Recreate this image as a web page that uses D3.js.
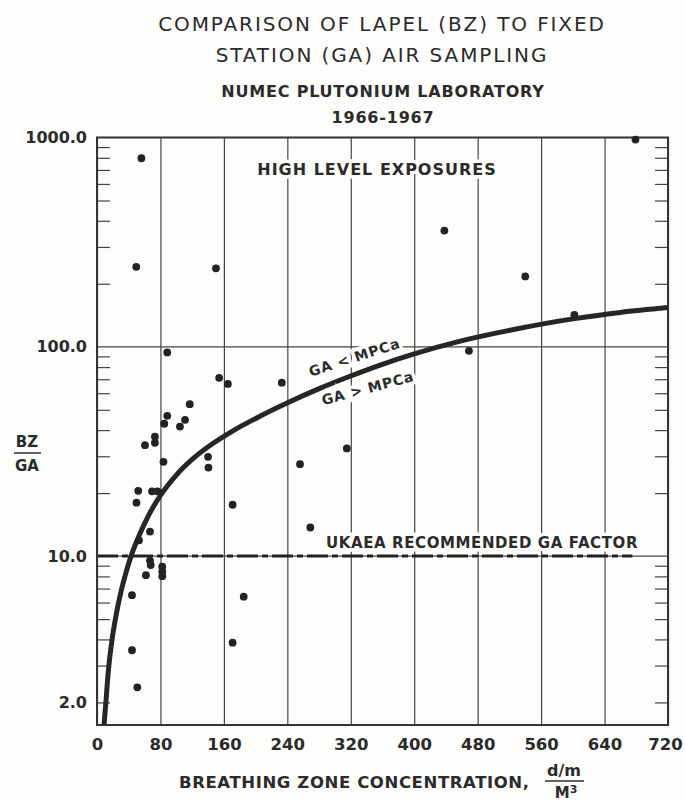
<!DOCTYPE html>
<html>
<head>
<meta charset="utf-8">
<script src="https://cdn.jsdelivr.net/npm/d3@7"></script>
<style>
  body { margin: 0; background: #fdfdfb; }
  text { font-family: "DejaVu Sans", sans-serif; fill: #2b2b2b; }
</style>
</head>
<body>
<div id="chart"></div>
<script>
// Chart data
var xTicks = [0, 80, 160, 240, 320, 400, 480, 560, 640, 720];
var yLabelTicks = [2, 10, 100, 1000];

// measured points: breathing zone conc. (d/m per m3) and BZ/GA ratio
var dotX = [56, 49.5, 150, 438, 540, 602, 679, 469,
  88.6, 154, 165, 233, 117, 88.6, 84.8, 111, 104.6, 73, 73, 60.5, 315,
  83.8, 140, 140.5, 256, 52, 69.3, 76.2, 49.8, 171, 269, 66.8, 52.9,
  66.8, 67.7, 61.7, 82.3, 82.3, 82.3, 44.1, 185, 171, 44.1, 50.8];
var dotY = [796, 241, 237, 359, 217, 142, 977, 95.7,
  94, 71.1, 66.5, 67.4, 53.2, 46.8, 42.9, 44.8, 41.6, 37.2, 34.8, 33.9, 32.7,
  28.2, 29.8, 26.5, 27.5, 20.5, 20.4, 20.4, 18.0, 17.6, 13.7, 13.1, 11.9,
  9.52, 9.06, 8.11, 8.91, 8.43, 8.02, 6.51, 6.40, 3.86, 3.55, 2.36];

// GA = MPCa boundary curve as drawn
var curveX = [8.8, 11.2, 14.2, 18.8, 24, 30, 36, 42.9, 53, 66, 80, 100, 121, 146, 172,
  206, 241, 281, 319, 357, 400, 458, 530, 600, 660, 720];
var curveY = [1.55, 2.0, 2.8, 3.95, 5.2, 6.7, 8.2, 10, 12.5, 15.9, 19.5, 24.4, 29.2, 34.5, 39.8,
  46.7, 54.2, 63.3, 72.3, 81.8, 92.5, 106.5, 122, 136, 146, 154];

var ukaeaFactor = 10;

var svgWidth = 685, svgHeight = 801;
var plotLeft = 97, plotRight = 668, plotTop = 137.5, plotBottom = 725;

var svg = d3.select("#chart").append("svg")
  .attr("width", svgWidth)
  .attr("height", svgHeight);

var x = d3.scaleLinear().domain([0, 720]).range([plotLeft, plotRight]);
var y = d3.scaleLog().domain([1.56, 1000]).range([plotBottom, plotTop]);

var ink = "#2e2e2e";

// minor log ticks 2..9 in every decade
var minor = [];
[1, 10, 100].forEach(function(p) {
  for (var k = 2; k <= 9; k++) if (k * p >= 1.56) minor.push(k * p);
});

// vertical grid from the x axis
var xAxis = svg.append("g")
  .attr("transform", `translate(0, ${plotBottom})`)
  .call(d3.axisBottom(x).tickValues(xTicks).tickSize(-(plotBottom - plotTop)).tickPadding(13).tickFormat(d => d));
xAxis.select(".domain").remove();
xAxis.selectAll("line").attr("stroke", "#444").attr("stroke-width", 1.2);
xAxis.selectAll("text")
  .style("font-size", "16.5px").style("font-weight", "bold")
  .attr("fill", ink);
xAxis.selectAll("text").filter(d => d === 720).attr("dx", -3);

// horizontal grid at 10 and 100
svg.append("g").selectAll("line").data([10, 100]).enter().append("line")
  .attr("x1", plotLeft).attr("x2", plotRight)
  .attr("y1", d => y(d)).attr("y2", d => y(d))
  .attr("stroke", "#444").attr("stroke-width", 1.2);

// inward minor ticks, both sides
var lt = svg.append("g").attr("transform", `translate(${plotLeft},0)`)
  .call(d3.axisLeft(y).tickValues(minor).tickSize(-13).tickFormat(""));
var rt = svg.append("g").attr("transform", `translate(${plotRight},0)`)
  .call(d3.axisRight(y).tickValues(minor).tickSize(-13).tickFormat(""));
[lt, rt].forEach(function(g) {
  g.select(".domain").remove();
  g.selectAll("line").attr("stroke", "#444").attr("stroke-width", 1.2);
});

// y labels
var yl = svg.append("g").attr("transform", `translate(${plotLeft},0)`)
  .call(d3.axisLeft(y).tickValues(yLabelTicks).tickSize(0).tickPadding(10).tickFormat(d3.format(".1f")));
yl.select(".domain").remove();
yl.selectAll("text").style("font-size", "16px").style("font-weight", "bold").attr("fill", ink);

// in-plot labels with a white knock-out like the drafted lettering
function label(txt, px, py, size, rot, spacing) {
  return svg.append("text")
    .attr("transform", `translate(${px},${py}) rotate(${rot || 0})`)
    .attr("text-anchor", "middle")
    .style("font-size", size + "px")
    .style("font-weight", "bold")
    .style("letter-spacing", (spacing || 0) + "px")
    .style("paint-order", "stroke")
    .attr("stroke", "#fdfdfb").attr("stroke-width", 7)
    .attr("fill", ink)
    .text(txt);
}

// UKAEA dash-dot line
svg.append("line")
  .attr("x1", x(0)).attr("x2", x(675))
  .attr("y1", y(ukaeaFactor)).attr("y2", y(ukaeaFactor))
  .attr("stroke", "#222").attr("stroke-width", 3)
  .attr("stroke-dasharray", "21,4,6,4");

label("HIGH LEVEL EXPOSURES", 377, 175, 16, 0, 1);
label("UKAEA RECOMMENDED GA FACTOR", 482, 548, 15, 0, 0.6);

// frame
svg.append("rect")
  .attr("x", plotLeft).attr("y", plotTop)
  .attr("width", plotRight - plotLeft).attr("height", plotBottom - plotTop)
  .attr("fill", "none").attr("stroke", "#333").attr("stroke-width", 2);

svg.append("clipPath").attr("id", "clip")
  .append("rect").attr("x", plotLeft).attr("y", plotTop)
  .attr("width", plotRight - plotLeft).attr("height", plotBottom - plotTop);

var line = d3.line()
  .x(d => x(d[0])).y(d => y(d[1]))
  .curve(d3.curveMonotoneX);

svg.append("path")
  .datum(d3.zip(curveX, curveY))
  .attr("clip-path", "url(#clip)")
  .attr("d", line)
  .attr("fill", "none")
  .attr("stroke", "#262626")
  .attr("stroke-width", 5);

label("GA < MPCa", 356, 362, 14, -18, 0.8);
label("GA > MPCa", 369, 393, 14, -15, 0.8);

svg.append("g").selectAll("circle")
  .data(d3.zip(dotX, dotY))
  .enter().append("circle")
  .attr("cx", d => x(d[0]))
  .attr("cy", d => y(d[1]))
  .attr("r", 3.9)
  .attr("fill", "#232323");

// titles
svg.append("text").attr("x", 382).attr("y", 31).attr("text-anchor", "middle")
  .style("font-size", "20px").style("letter-spacing", "1.9px").attr("fill", ink)
  .text("COMPARISON OF LAPEL (BZ) TO FIXED");
svg.append("text").attr("x", 382).attr("y", 62).attr("text-anchor", "middle")
  .style("font-size", "20px").style("letter-spacing", "1.9px").attr("fill", ink)
  .text("STATION (GA) AIR SAMPLING");
svg.append("text").attr("x", 383).attr("y", 97).attr("text-anchor", "middle")
  .style("font-size", "16px").style("font-weight", "bold").style("letter-spacing", "0.8px").attr("fill", ink)
  .text("NUMEC PLUTONIUM LABORATORY");
svg.append("text").attr("x", 383).attr("y", 123).attr("text-anchor", "middle")
  .style("font-size", "16px").style("font-weight", "bold").style("letter-spacing", "0.8px").attr("fill", ink)
  .text("1966-1967");

// y axis title as a fraction
svg.append("text").attr("x", 27).attr("y", 447).attr("text-anchor", "middle")
  .style("font-size", "15px").style("font-weight", "bold").attr("fill", ink).text("BZ");
svg.append("line").attr("x1", 14).attr("x2", 41).attr("y1", 453).attr("y2", 453)
  .attr("stroke", ink).attr("stroke-width", 1.5);
svg.append("text").attr("x", 27).attr("y", 471).attr("text-anchor", "middle")
  .style("font-size", "15px").style("font-weight", "bold").attr("fill", ink).text("GA");

// x axis title with units fraction
svg.append("text").attr("x", 179).attr("y", 788)
  .style("font-size", "16.5px").style("font-weight", "bold").style("letter-spacing", "0.6px").attr("fill", ink)
  .text("BREATHING ZONE CONCENTRATION,");
svg.append("text").attr("x", 564).attr("y", 776).attr("text-anchor", "middle")
  .style("font-size", "16px").style("font-weight", "bold").attr("fill", ink).text("d/m");
svg.append("line").attr("x1", 545).attr("x2", 584).attr("y1", 781).attr("y2", 781)
  .attr("stroke", ink).attr("stroke-width", 1.5);
svg.append("text").attr("x", 566).attr("y", 798).attr("text-anchor", "middle")
  .style("font-size", "15px").style("font-weight", "bold").attr("fill", ink)
  .text("M").append("tspan").attr("dy", -5).style("font-size", "11px").text("3");
</script>
</body>
</html>
